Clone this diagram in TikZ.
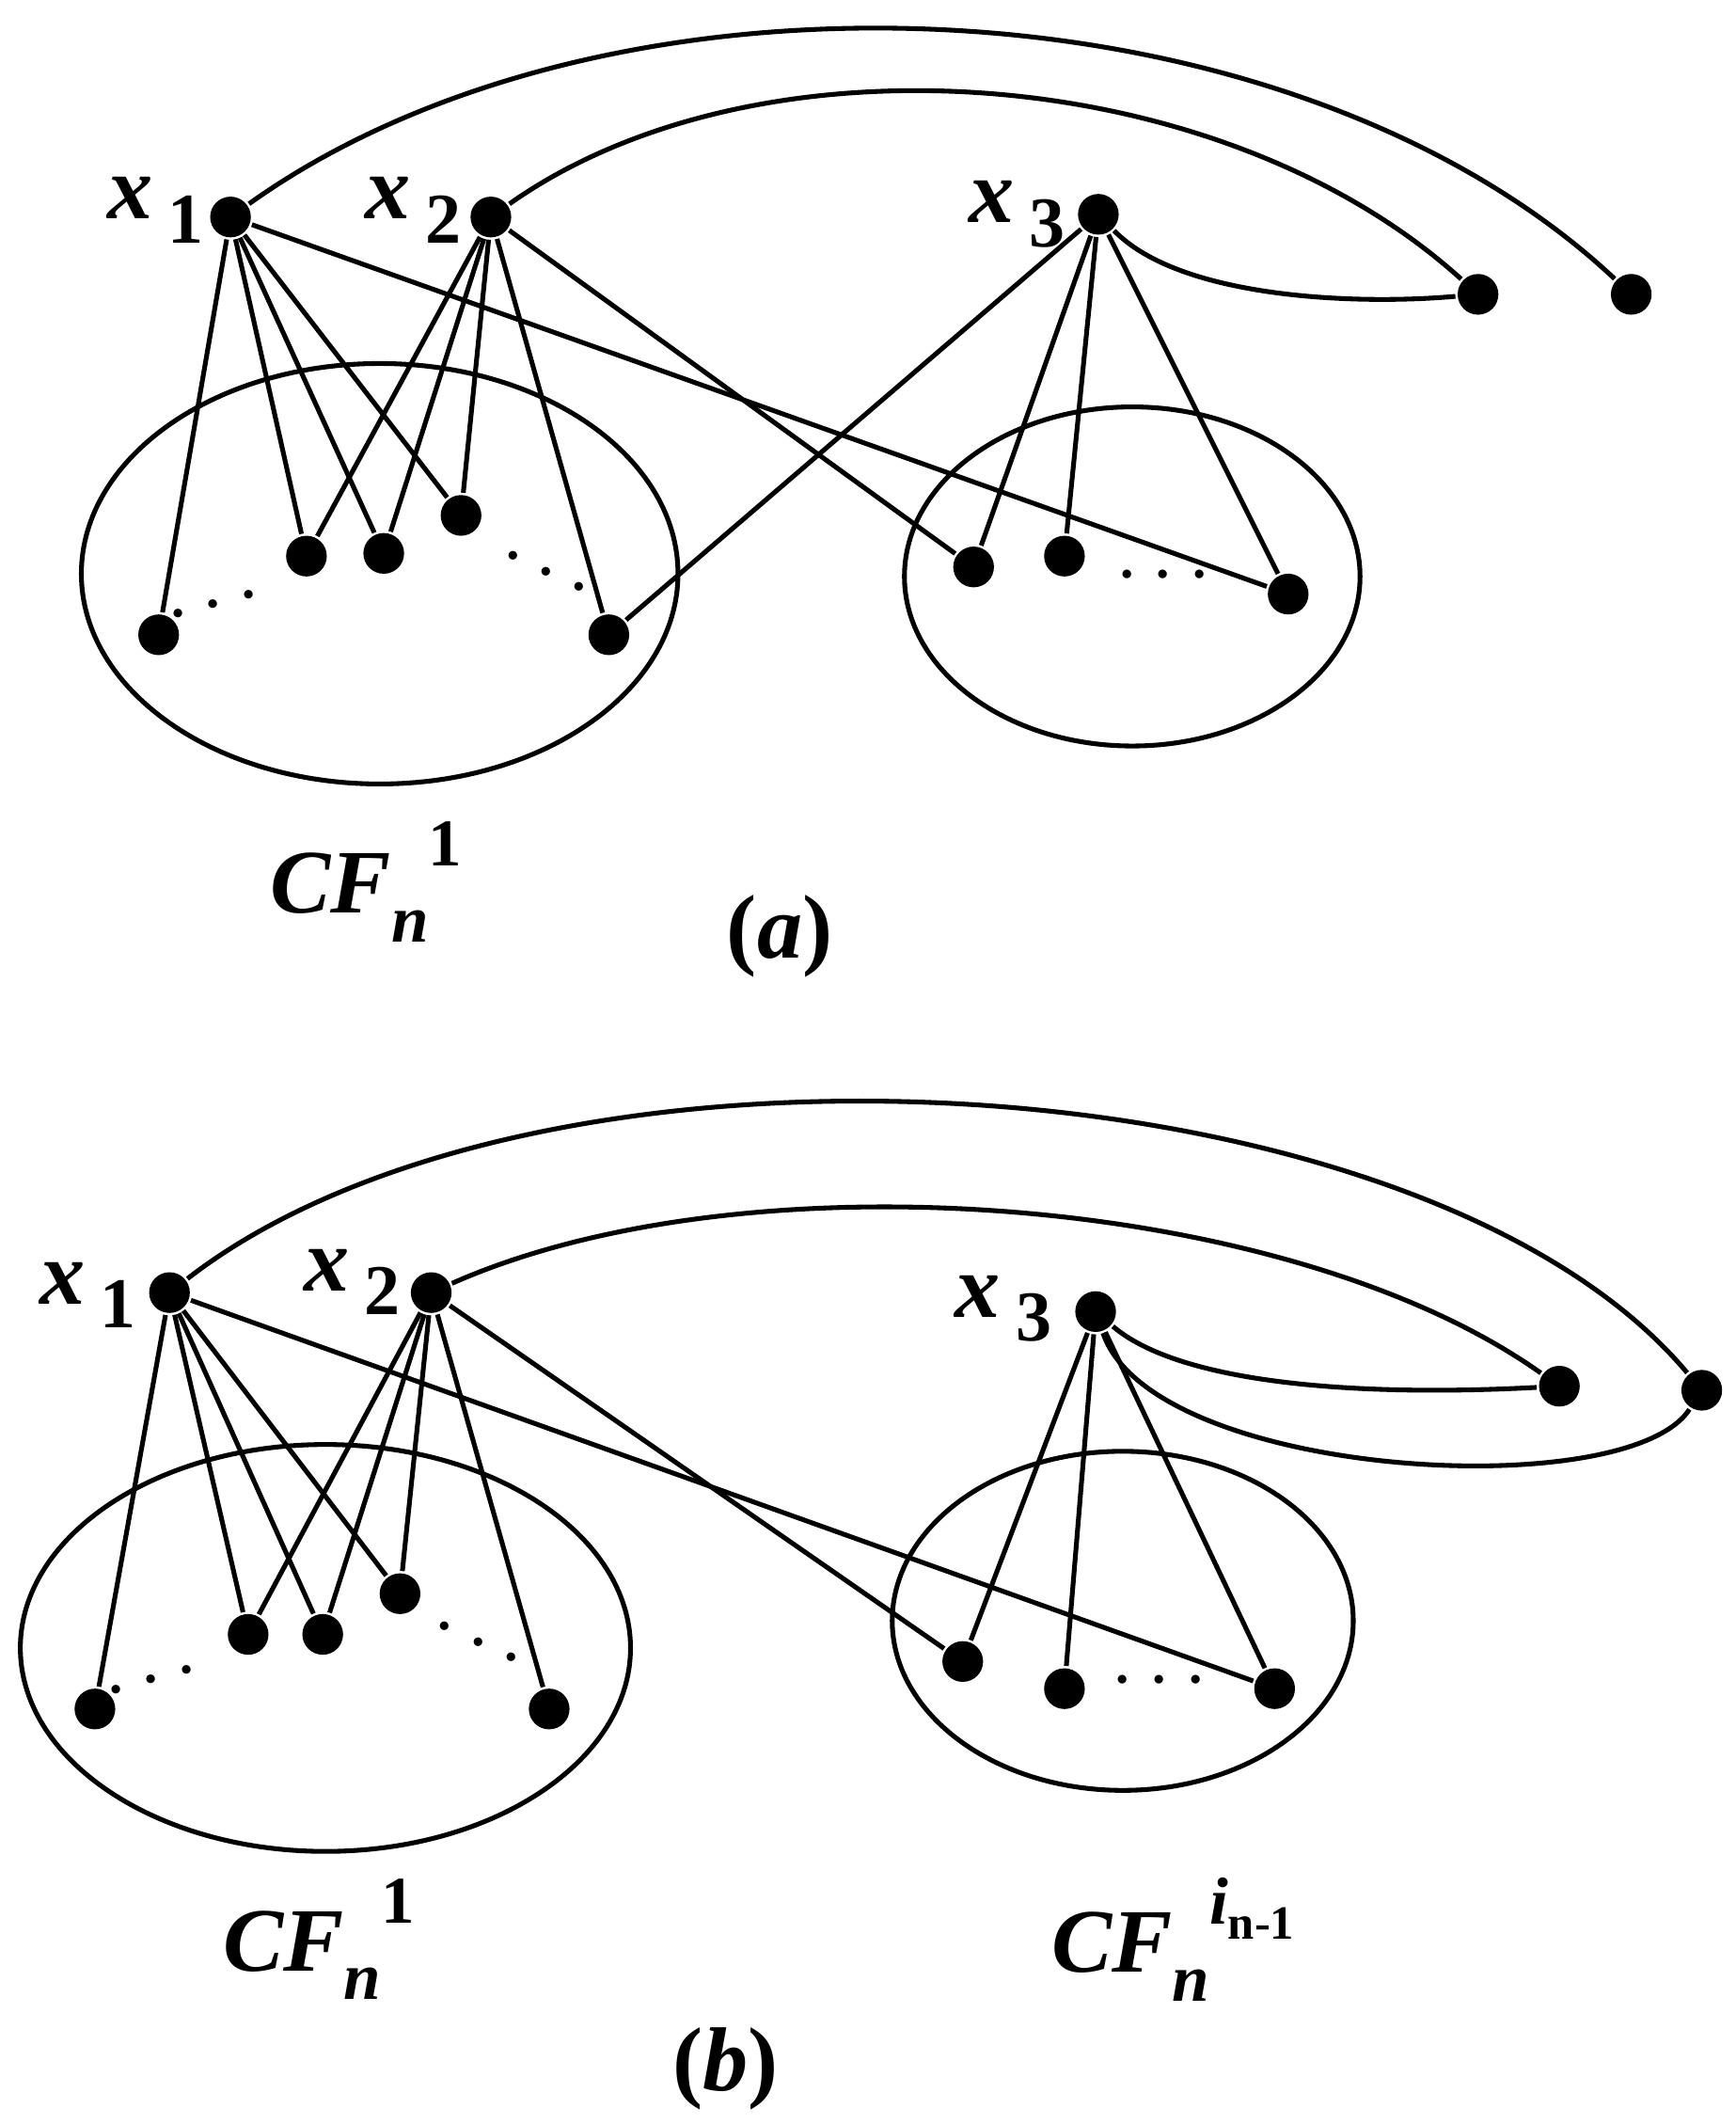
\documentclass[tikz,border=0pt]{standalone}
\usepackage{fontspec}
\setmainfont{Liberation Serif}
\newcommand{\xl}[1]{x\,\raisebox{-5pt}{\fontsize{15}{15}\selectfont\upshape #1}}
\begin{document}
\begin{tikzpicture}[x=0.01cm,y=-0.01cm,line width=1pt,
  v/.style={circle,fill=black,inner sep=0pt,minimum size=0.3cm},
  lab/.style={font=\fontsize{19}{21}\selectfont\bfseries\itshape},
  dt/.style={font=\fontsize{19}{21}\selectfont\bfseries,inner sep=0pt}]
\useasboundingbox (0,0) rectangle (1280,1566);
% (a)
\draw (280,423) ellipse [x radius=220, y radius=155];
\draw (835,425) ellipse [x radius=168, y radius=125];
\node[v] (x1) at (170,160) {}; \node[lab] at (115,155) {\xl{1}};
\node[v] (x2) at (362,160) {}; \node[lab] at (305,155) {\xl{2}};
\node[v] (x3) at (810,158) {}; \node[lab] at (750,158) {\xl{3}};
\node[v] (f1) at (1090,217) {}; \node[v] (f2) at (1203,217) {};
\node[v] (a1) at (117,468) {}; \node[v] (a2) at (226,410) {};
\node[v] (a3) at (283,408) {}; \node[v] (a4) at (340,380) {};
\node[v] (a5) at (449,468) {};
\node[v] (r1) at (718,418) {}; \node[v] (r2) at (785,410) {};
\node[v] (r3) at (950,438) {};
\node[dt,rotate=15] at (158,447) {$\cdots$};
\node[dt,rotate=-25] at (402,423) {$\cdots$};
\node[dt] at (858,425) {$\cdots$};
\foreach \t in {a1,a2,a3,a4,r3} \draw (x1) -- (\t);
\foreach \t in {a2,a3,a4,a5,r1} \draw (x2) -- (\t);
\foreach \t in {a5,r1,r2,r3} \draw (x3) -- (\t);
\draw (x1) .. controls (450,-40) and (950,-20) .. (f2);
\draw (x2) .. controls (560,20) and (900,45) .. (f1);
\draw (x3) .. controls (870,220) and (1000,225) .. (f1);
\node[lab] at (270,650) {CF\raisebox{-6pt}{\fontsize{14}{14}\selectfont n}\raisebox{10pt}{\fontsize{14}{14}\selectfont\upshape 1}};
\node[lab] at (575,690) {{\upshape(}a{\upshape)}};
% (b)
\draw (240,1215) ellipse [x radius=225, y radius=150];
\draw (828,1195) ellipse [x radius=170, y radius=125];
\node[v] (y1) at (125,953) {}; \node[lab] at (65,955) {\xl{1}};
\node[v] (y2) at (318,953) {}; \node[lab] at (260,945) {\xl{2}};
\node[v] (y3) at (808,967) {}; \node[lab] at (740,965) {\xl{3}};
\node[v] (g1) at (1150,1022) {}; \node[v] (g2) at (1255,1025) {};
\node[v] (b1) at (70,1260) {}; \node[v] (b2) at (183,1205) {};
\node[v] (b3) at (238,1205) {}; \node[v] (b4) at (295,1175) {};
\node[v] (b5) at (405,1260) {};
\node[v] (s1) at (710,1225) {}; \node[v] (s2) at (785,1245) {};
\node[v] (s3) at (940,1245) {};
\node[dt,rotate=15] at (112,1240) {$\cdots$};
\node[dt,rotate=-25] at (352,1212) {$\cdots$};
\node[dt] at (855,1240) {$\cdots$};
\foreach \t in {b1,b2,b3,b4,s3} \draw (y1) -- (\t);
\foreach \t in {b2,b3,b4,b5,s1} \draw (y2) -- (\t);
\foreach \t in {s1,s2,s3} \draw (y3) -- (\t);
\draw (y1) .. controls (400,740) and (1050,780) .. (g2);
\draw (y2) .. controls (550,850) and (950,880) .. (g1);
\draw (y3) .. controls (870,1020) and (1000,1030) .. (g1);
\draw (y3) .. controls (850,1090) and (1200,1110) .. (g2);
\node[lab] at (235,1430) {CF\raisebox{-6pt}{\fontsize{14}{14}\selectfont n}\raisebox{10pt}{\fontsize{14}{14}\selectfont\upshape 1}};
\node[lab] at (865,1430) {CF\raisebox{-6pt}{\fontsize{14}{14}\selectfont n}\raisebox{10pt}{\fontsize{14}{14}\selectfont i\raisebox{-3pt}{\fontsize{10}{10}\selectfont\upshape n-1}}};
\node[lab] at (535,1525) {{\upshape(}b{\upshape)}};
\end{tikzpicture}
\end{document}
